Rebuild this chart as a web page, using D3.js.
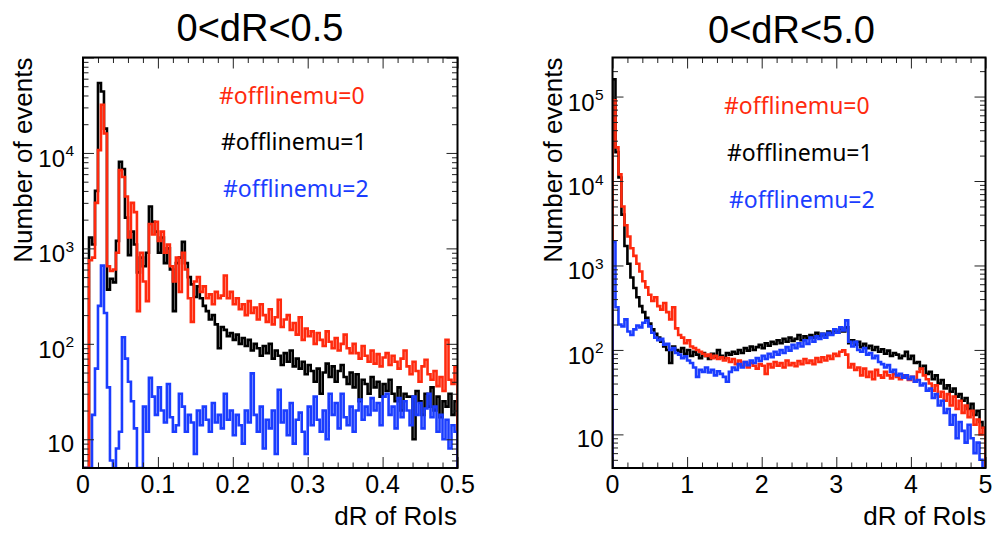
<!DOCTYPE html>
<html><head><meta charset="utf-8">
<script src="https://cdn.jsdelivr.net/npm/d3@7"></script>
<style>body{margin:0;background:#fff}svg{display:block}</style>
</head><body>
<script>
// ---------------- data ----------------
const seriesNames = ["#offlinemu=0", "#offlinemu=1", "#offlinemu=2"];
const seriesColors = ["#ff2a0e", "#000000", "#1b3dff"];
const panelTitles = ["0<dR<0.5", "0<dR<5.0"];
const xAxisTitle = "dR of RoIs";
const yAxisTitle = "Number of events";

const leftRange = [0, 0.5];
const rightRange = [0, 5];
const leftXTicks = [0, 0.1, 0.2, 0.3, 0.4, 0.5];
const leftXTickLabels = ["0", "0.1", "0.2", "0.3", "0.4", "0.5"];
const rightXTicks = [0, 1, 2, 3, 4, 5];
const rightXTickLabels = ["0", "1", "2", "3", "4", "5"];
const leftYTicks = [10, 100, 1000, 10000];
const leftYExponents = ["", "2", "3", "4"];
const rightYTicks = [10, 100, 1000, 10000, 100000];
const rightYExponents = ["", "2", "3", "4", "5"];
const leftYDomain = [5, 100000];
const rightYDomain = [4, 290000];

// left panel, 125 bins over 0..0.5
const leftRed = [0,0,750,800,3000,10700,32000,16000,650,580,600,900,6600,5600,3500,1300,3000,2400,220,900,
450,280,1800,1400,1900,1200,1500,900,1100,650,450,800,350,900,600,300,170,450,500,350,
400,300,330,260,350,300,320,520,300,350,260,300,230,260,200,280,210,240,180,260,
200,170,230,160,190,290,150,180,200,140,165,125,190,110,145,120,135,100,130,110,
95,135,105,90,115,85,100,125,90,80,100,80,70,95,75,65,85,62,78,58,
72,80,60,75,65,55,70,85,58,48,65,52,40,58,68,48,42,52,36,45,
32,110,42,38,58];
const leftBlack = [0,0,1300,1100,4000,54000,44000,18000,370,480,440,1200,8100,6800,2100,850,1500,1100,560,800,
650,900,2750,1900,1500,900,1300,700,1000,600,220,700,800,1170,700,500,420,310,400,300,
250,220,180,200,160,90,150,140,120,130,110,125,100,115,95,110,85,100,90,75,
95,80,100,70,85,75,60,80,65,85,58,70,55,65,48,60,52,40,55,30,
50,62,45,58,40,52,60,45,38,50,35,48,25,42,38,30,45,35,40,28,
38,32,42,30,25,35,20,30,28,28,10,32,25,18,30,22,35,20,28,17,
25,22,30,18,25];
const leftBlue = [0,0,0,18,55,250,660,210,35,6,0,8,12,117,70,40,25,13,5,0,
22,12,44,28,18,35,20,15,38,17,12,14,30,22,12,18,15,7,20,14,
22,16,12,24,15,18,13,30,16,20,11,18,14,9,20,15,49,18,12,22,
8,16,13,20,7,33,15,20,11,24,9,16,19,12,7,22,14,28,16,12,
20,10,30,18,24,13,30,17,14,22,12,20,26,16,22,18,27,20,24,14,
28,30,18,22,13,27,17,25,20,14,28,18,24,13,21,30,17,22,12,18,
10,16,8,14,12];

// right panel, 125 bins over 0..5
const rightRed = [90000,25000,12000,5000,3000,2200,1600,1300,1050,850,650,550,450,380,420,330,300,360,280,230,
320,180,150,140,120,130,110,105,100,95,90,85,88,80,85,78,82,75,80,72,
78,68,75,65,72,62,70,65,60,68,65,52,68,62,72,65,70,62,75,66,
70,64,74,68,78,70,75,68,80,72,82,75,85,78,90,85,95,99,88,62,
68,58,62,50,60,48,55,45,58,50,47,55,50,46,52,48,45,50,47,44,
48,42,55,60,50,45,40,33,38,28,32,25,30,22,28,20,25,18,22,16,
19,13,15,10,12];
const rightBlack = [160000,22000,11000,4000,1700,1050,720,540,420,330,280,240,205,175,155,140,125,110,100,70,
110,100,95,105,90,100,85,95,88,80,92,85,78,90,82,100,85,80,92,88,
95,90,100,92,105,98,110,100,108,115,105,120,112,125,118,130,120,135,125,140,
128,135,150,130,145,138,150,140,160,145,155,150,165,158,170,160,180,165,185,120,
130,115,125,108,118,105,112,100,108,95,102,90,98,85,92,88,80,85,95,78,
85,70,72,60,65,52,55,45,50,40,44,35,38,32,35,28,30,25,27,20,
23,17,19,14,12];
const rightBlue = [1900,320,200,190,230,165,150,175,195,185,210,224,190,160,140,130,135,115,118,100,
105,92,88,80,84,75,70,62,48,58,55,62,54,58,50,56,52,48,42,55,
62,58,68,62,72,66,75,70,80,74,85,78,90,82,95,88,100,92,108,98,
115,105,120,110,130,118,140,125,145,135,155,140,160,150,175,160,185,170,224,125,
110,125,100,95,105,88,92,80,85,72,68,62,66,55,58,50,52,47,50,45,
48,42,44,38,40,33,35,27,30,22,25,18,20,13,17,9,14,11,8,13,
9,6,8,5,4];

// ---------------- drawing ----------------
const W = 994, H = 534;
const svg = d3.select("body").append("svg").attr("width", W).attr("height", H)
  .style("font-family", "'Liberation Sans', Arial, Helvetica, sans-serif");

const panels = [
  { frame: {x0: 83, x1: 457.5, y0: 57.5, y1: 468}, range: leftRange, yDomain: leftYDomain,
    xTicks: leftXTicks, xLabels: leftXTickLabels, xMinorStep: 0.02,
    yTicks: leftYTicks, yExp: leftYExponents,
    series: [leftRed, leftBlack, leftBlue], title: panelTitles[0], titleX: 260, titleY: 41,
    legendX: [219, 221, 223], legendY: [103.5, 149.5, 196.5],
    yTitleX: 31.5, xTitleRight: 457 },
  { frame: {x0: 612.5, x1: 985.5, y0: 57.5, y1: 468}, range: rightRange, yDomain: rightYDomain,
    xTicks: rightXTicks, xLabels: rightXTickLabels, xMinorStep: 0.2,
    yTicks: rightYTicks, yExp: rightYExponents,
    series: [rightRed, rightBlack, rightBlue], title: panelTitles[1], titleX: 791.5, titleY: 42.5,
    legendX: [724, 727, 729], legendY: [114, 160.5, 207.5],
    yTitleX: 561.5, xTitleRight: 986 }
];

panels.forEach((p, pi) => {
  const f = p.frame;
  const x = d3.scaleLinear().domain(p.range).range([f.x0, f.x1]);
  const y = d3.scaleLog().domain(p.yDomain).range([f.y1, f.y0]).clamp(true);
  const g = svg.append("g");

  const clipId = "clip" + pi;
  svg.append("clipPath").attr("id", clipId).append("rect")
    .attr("x", f.x0).attr("y", f.y0).attr("width", f.x1 - f.x0).attr("height", f.y1 - f.y0);

  // histograms: draw black, red, blue
  const order = [1, 0, 2];
  order.forEach(si => {
    const vals = p.series[si];
    const n = vals.length;
    const bw = (p.range[1] - p.range[0]) / n;
    const pts = [[x(p.range[0]), y(p.yDomain[0])]];
    vals.forEach((v, i) => {
      const vv = Math.max(v, p.yDomain[0]);
      pts.push([x(p.range[0] + i * bw), y(vv)]);
      pts.push([x(p.range[0] + (i + 1) * bw), y(vv)]);
    });
    pts.push([x(p.range[1]), y(p.yDomain[0])]);
    g.append("path").attr("clip-path", `url(#${clipId})`)
      .attr("d", d3.line()(pts))
      .attr("fill", "none").attr("stroke", seriesColors[si])
      .attr("stroke-width", 2.6).attr("stroke-linejoin", "miter");
  });

  // ticks
  const majorLen = 11, minorLen = 5.5;
  const minorX = d3.range(p.range[0], p.range[1] + 1e-9, p.xMinorStep).filter(v =>
    !p.xTicks.some(t => Math.abs(t - v) < 1e-9));
  const tickStyle = sel => { sel.select(".domain").remove(); sel.selectAll("line").attr("stroke", "#222").attr("stroke-width", 1); sel.selectAll("text").remove(); };
  [[d3.axisBottom, f.y1, -1], [d3.axisTop, f.y0, -1]].forEach(([ax, yy]) => {
    g.append("g").attr("transform", `translate(0,${yy})`)
      .call(ax(x).tickValues(p.xTicks).tickSize(-majorLen)).call(tickStyle);
    g.append("g").attr("transform", `translate(0,${yy})`)
      .call(ax(x).tickValues(minorX).tickSize(-minorLen)).call(tickStyle);
  });
  const yMinor = [];
  const lo = Math.floor(Math.log10(p.yDomain[0])), hi = Math.ceil(Math.log10(p.yDomain[1]));
  for (let d = lo; d <= hi; d++) for (let k = 2; k <= 9; k++) {
    const v = k * Math.pow(10, d);
    if (v >= p.yDomain[0] && v <= p.yDomain[1]) yMinor.push(v);
  }
  const yMajor = [];
  for (let d = lo; d <= hi; d++) { const v = Math.pow(10, d); if (v >= p.yDomain[0] && v <= p.yDomain[1]) yMajor.push(v); }
  [[d3.axisLeft, f.x0], [d3.axisRight, f.x1]].forEach(([ax, xx]) => {
    g.append("g").attr("transform", `translate(${xx},0)`)
      .call(ax(y).tickValues(yMajor).tickSize(-majorLen)).call(tickStyle);
    g.append("g").attr("transform", `translate(${xx},0)`)
      .call(ax(y).tickValues(yMinor).tickSize(-minorLen)).call(tickStyle);
  });

  // frame
  g.append("rect").attr("x", f.x0).attr("y", f.y0).attr("width", f.x1 - f.x0).attr("height", f.y1 - f.y0)
    .attr("fill", "none").attr("stroke", "#000").attr("stroke-width", 2);

  // x tick labels
  p.xTicks.forEach((t, i) => {
    g.append("text").attr("x", x(t)).attr("y", 493).attr("text-anchor", "middle")
      .attr("font-size", 25).attr("fill", "#000").text(p.xLabels[i]);
  });
  // y tick labels
  p.yTicks.forEach((t, i) => {
    const ty = y(t);
    const e = p.yExp[i];
    if (e === "") {
      g.append("text").attr("x", f.x0 - 9).attr("y", ty + 12.5).attr("text-anchor", "end")
        .attr("font-size", 24).text("10");
    } else {
      g.append("text").attr("x", f.x0 - 9).attr("y", ty + 3.5).attr("text-anchor", "end")
        .attr("font-size", 15.5).text(e);
      g.append("text").attr("x", f.x0 - 18).attr("y", ty + 14).attr("text-anchor", "end")
        .attr("font-size", 24).text("10");
    }
  });

  // axis titles
  g.append("text").attr("transform", `translate(${p.yTitleX},${f.y0}) rotate(-90)`)
    .attr("text-anchor", "end").attr("font-size", 26).text(yAxisTitle);
  g.append("text").attr("x", p.xTitleRight).attr("y", 525).attr("text-anchor", "end")
    .attr("font-size", 26).text(xAxisTitle);

  // title
  g.append("text").attr("x", p.titleX).attr("y", p.titleY).attr("text-anchor", "middle")
    .attr("font-size", 38).text(p.title);

  // legend
  seriesNames.forEach((name, si) => {
    g.append("text").attr("x", p.legendX[si]).attr("y", p.legendY[si])
      .attr("font-family", "'Noto Sans', 'Open Sans', sans-serif").attr("font-size", 23)
      .attr("fill", seriesColors[si]).text(name);
  });
});
</script>
</body></html>
